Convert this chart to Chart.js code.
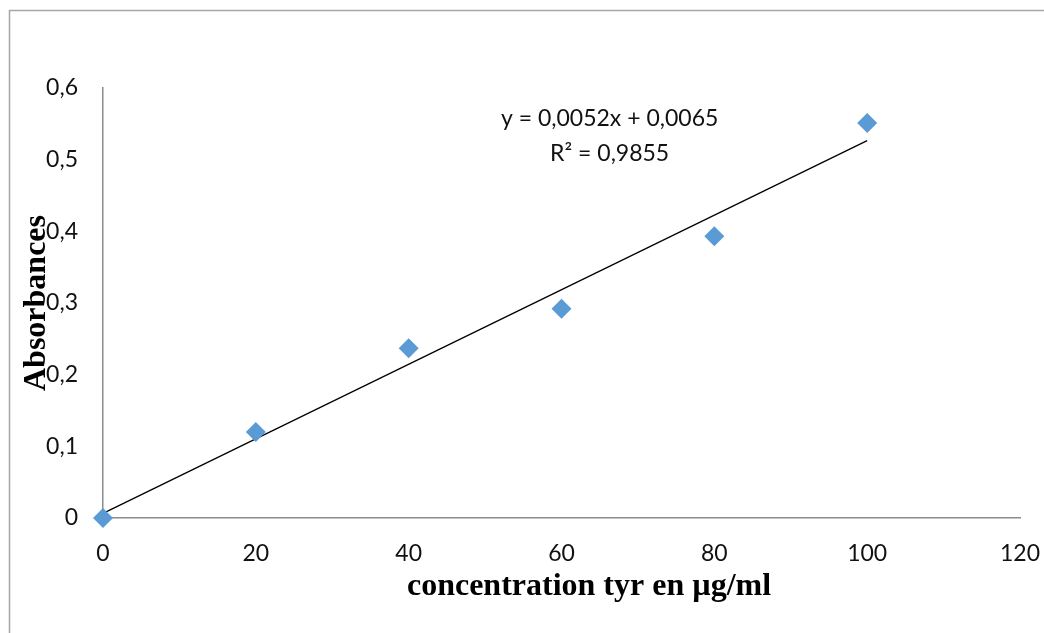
<!DOCTYPE html>
<html><head><meta charset="utf-8">
<script src="https://cdn.jsdelivr.net/npm/chart.js@4"></script>
<style>html,body{margin:0;padding:0;background:#fff}#wrap{width:1044px;height:633px}</style>
</head><body><div id="wrap"><canvas id="c" width="1044" height="633"></canvas></div>
<script>
const concentrations = [0, 20, 40, 60, 80, 100];
const absorbances = [0, 0.12, 0.237, 0.292, 0.393, 0.551];
const trendX = [0, 100];
const trendY = [0.0065, 0.5265];
const equationLines = ['y = 0,0052x + 0,0065', 'R² = 0,9855'];
const xTitle = 'concentration tyr en µg/ml';
const yTitle = 'Absorbances';

const tickFont = {family: 'Lato', size: 23};
const decoPlugin = {
  id: 'deco',
  beforeDraw(chart) {
    const ctx = chart.ctx;
    ctx.save();
    ctx.strokeStyle = '#a6a6a6';
    ctx.lineWidth = 1.5;
    ctx.strokeRect(9.5, 10.5, 1200, 800);
    ctx.restore();
  },
  afterDraw(chart) {
    const ctx = chart.ctx;
    const xs = chart.scales.x, ys = chart.scales.y;
    ctx.save();
    ctx.fillStyle = '#111';
    ctx.font = '23px Lato';
    ctx.textAlign = 'center';
    ctx.textBaseline = 'middle';
    const ex = xs.getPixelForValue(66.3);
    ctx.fillText(equationLines[0], ex, ys.getPixelForValue(0.558));
    ctx.fillText(equationLines[1], ex, ys.getPixelForValue(0.509));
    ctx.font = 'bold 32px "Liberation Serif"';
    ctx.fillStyle = '#000';
    ctx.fillText(xTitle, xs.getPixelForValue(63.6), 587);
    ctx.restore();
  }
};

new Chart(document.getElementById('c'), {
  type: 'scatter',
  data: {
    datasets: [
      {
        label: 'points',
        data: concentrations.map((x, i) => ({x, y: absorbances[i]})),
        pointStyle: 'rectRot',
        pointRadius: 10,
        pointBackgroundColor: '#5B9BD5',
        pointBorderColor: '#5B9BD5',
        pointBorderWidth: 0,
        clip: false,
        order: 1
      },
      {
        type: 'line',
        label: 'trend',
        data: trendX.map((x, i) => ({x, y: trendY[i]})),
        borderColor: '#000',
        borderWidth: 1.3,
        pointRadius: 0,
        fill: false,
        clip: false,
        order: 2
      }
    ]
  },
  options: {
    responsive: false,
    animation: false,
    layout: {padding: {left: 0, top: 88, right: 24, bottom: 0}},
    plugins: {legend: {display: false}, tooltip: {enabled: false}},
    scales: {
      x: {
        type: 'linear', min: 0, max: 120,
        ticks: {stepSize: 20, font: tickFont, color: '#111', padding: 22, maxRotation: 0},
        grid: {display: false, drawTicks: false},
        border: {display: true, color: '#8c8c8c', width: 1.5},
        afterFit(s) { s.height = 115; s.paddingRight = 0; s.paddingLeft = 0; }
      },
      y: {
        type: 'linear', min: 0, max: 0.6,
        ticks: {stepSize: 0.1, font: tickFont, color: '#111', padding: 25,
          callback: v => { const r = Math.round(v * 10) / 10; return r === 0 ? '0' : r.toFixed(1).replace('.', ','); }},
        grid: {display: false, drawTicks: false},
        border: {display: true, color: '#8c8c8c', width: 1.5},
        title: {display: true, text: yTitle, font: {family: 'Liberation Serif', size: 32, weight: 'bold'}, color: '#000', padding: {top: 18, bottom: 0}},
        afterFit(s) { s.width = 103; s.paddingTop = 0; s.paddingBottom = 0; }
      }
    }
  },
  plugins: [decoPlugin]
});
</script></body></html>
